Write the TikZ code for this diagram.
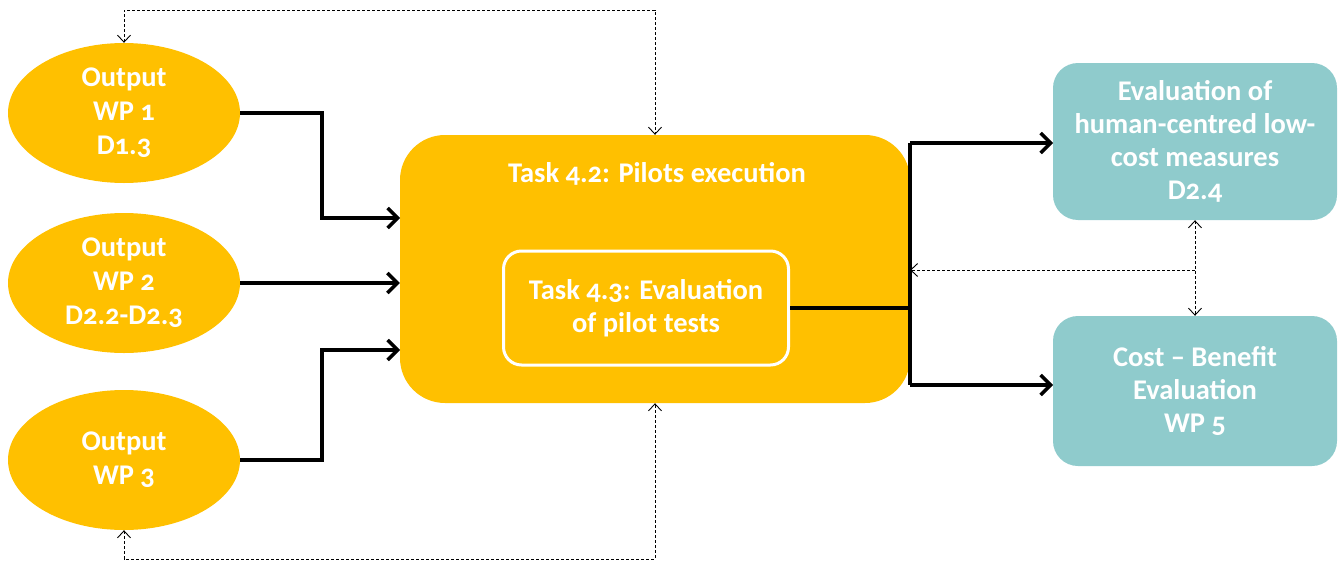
\documentclass[tikz,border=0pt]{standalone}
\usepackage{fontspec}
\setmainfont{Carlito}[Numbers=OldStyle]
\usetikzlibrary{arrows.meta,calc,shapes.geometric}
\definecolor{orng}{RGB}{255,192,0}
\definecolor{teal2}{RGB}{143,203,204}
\tikzset{tipd/.tip={Straight Barb[length=7pt,width=13pt,line width=0.9pt]},
         tipc/.tip={Straight Barb[length=10pt,width=20pt,line width=3.5pt]}}
\begin{document}
\begin{tikzpicture}[x=1pt,y=-1pt,
  txt/.style={text=white,font=\fontsize{28.5}{34}\selectfont\bfseries,align=center},
  ell/.style={ellipse,fill=orng,minimum width=232pt,minimum height=140pt,inner sep=0pt,txt},
  bigbox/.style={fill=orng,rounded corners=45pt,minimum width=510pt,minimum height=268pt,inner sep=0pt},
  innerbox/.style={draw=white,line width=3pt,fill=orng,rounded corners=18pt,minimum width=285pt,minimum height=114pt,inner sep=0pt,txt,font=\fontsize{28.5}{33}\selectfont\bfseries},
  tealbox/.style={fill=teal2,rounded corners=25pt,minimum width=284pt,inner sep=0pt,txt,font=\fontsize{28.5}{33}\selectfont\bfseries},
  conn/.style={line width=3.5pt,-tipc},
  plain/.style={line width=3.5pt},
  dsh/.style={densely dashed,line width=0.9pt,black},
]
\useasboundingbox (0,0) rectangle (1344,562);
\node[ell] (o1) at (124,113) {Output\\WP 1\\D1.3};
\node[ell] (o2) at (124,283) {Output\\WP 2\\D2.2-D2.3};
\node[ell] (o3) at (124,460) {Output\\WP 3};
\node[bigbox] (t42) at (655,269) {};
\node[txt] (t42t) at (657,174) {Task 4.2: Pilots execution};
\node[innerbox] (t43) at (646,308) {Task 4.3: Evaluation\\of pilot tests};
\node[tealbox,minimum height=157pt] (r1) at (1195,141.5) {Evaluation of\\human-centred low-\\cost measures\\D2.4};
\node[tealbox,minimum height=150pt] (r2) at (1195,391) {Cost – Benefit\\Evaluation\\WP 5};

\coordinate (jx) at (322,0);
\coordinate (in1) at (400,218);
\coordinate (in3) at (400,350);
\coordinate (bx) at (910,308);
\coordinate (bt) at (910,143);
\coordinate (bb) at (910,385);
\coordinate (out1) at (1053,143);
\coordinate (out2) at (1053,385);
\coordinate (top) at (0,10);
\coordinate (bot) at (0,559);
\coordinate (mid) at (1195,270);

\draw[conn] (o1.east) -- (o1.east -| jx) |- (in1);
\draw[conn] (o2.east) -- (o2.east -| t42.west);
\draw[conn] (o3.east) -- (o3.east -| jx) |- (in3);
\draw[plain] (t43.east) -- (bx);
\draw[plain] (bt) -- (bb);
\draw[conn] (bt) -- (out1);
\draw[conn] (bb) -- (out2);

\draw[dsh,tipd-tipd] (o1.north) -- (o1.north |- top) -- (t42.north |- top) -- (t42.north);
\draw[dsh,tipd-tipd] (o3.south) -- (o3.south |- bot) -- (t42.south |- bot) -- (t42.south);
\draw[dsh,tipd-tipd] (r1.south) -- (r2.north);
\draw[dsh,-tipd] (mid) -- (mid -| bx);
\end{tikzpicture}
\end{document}
